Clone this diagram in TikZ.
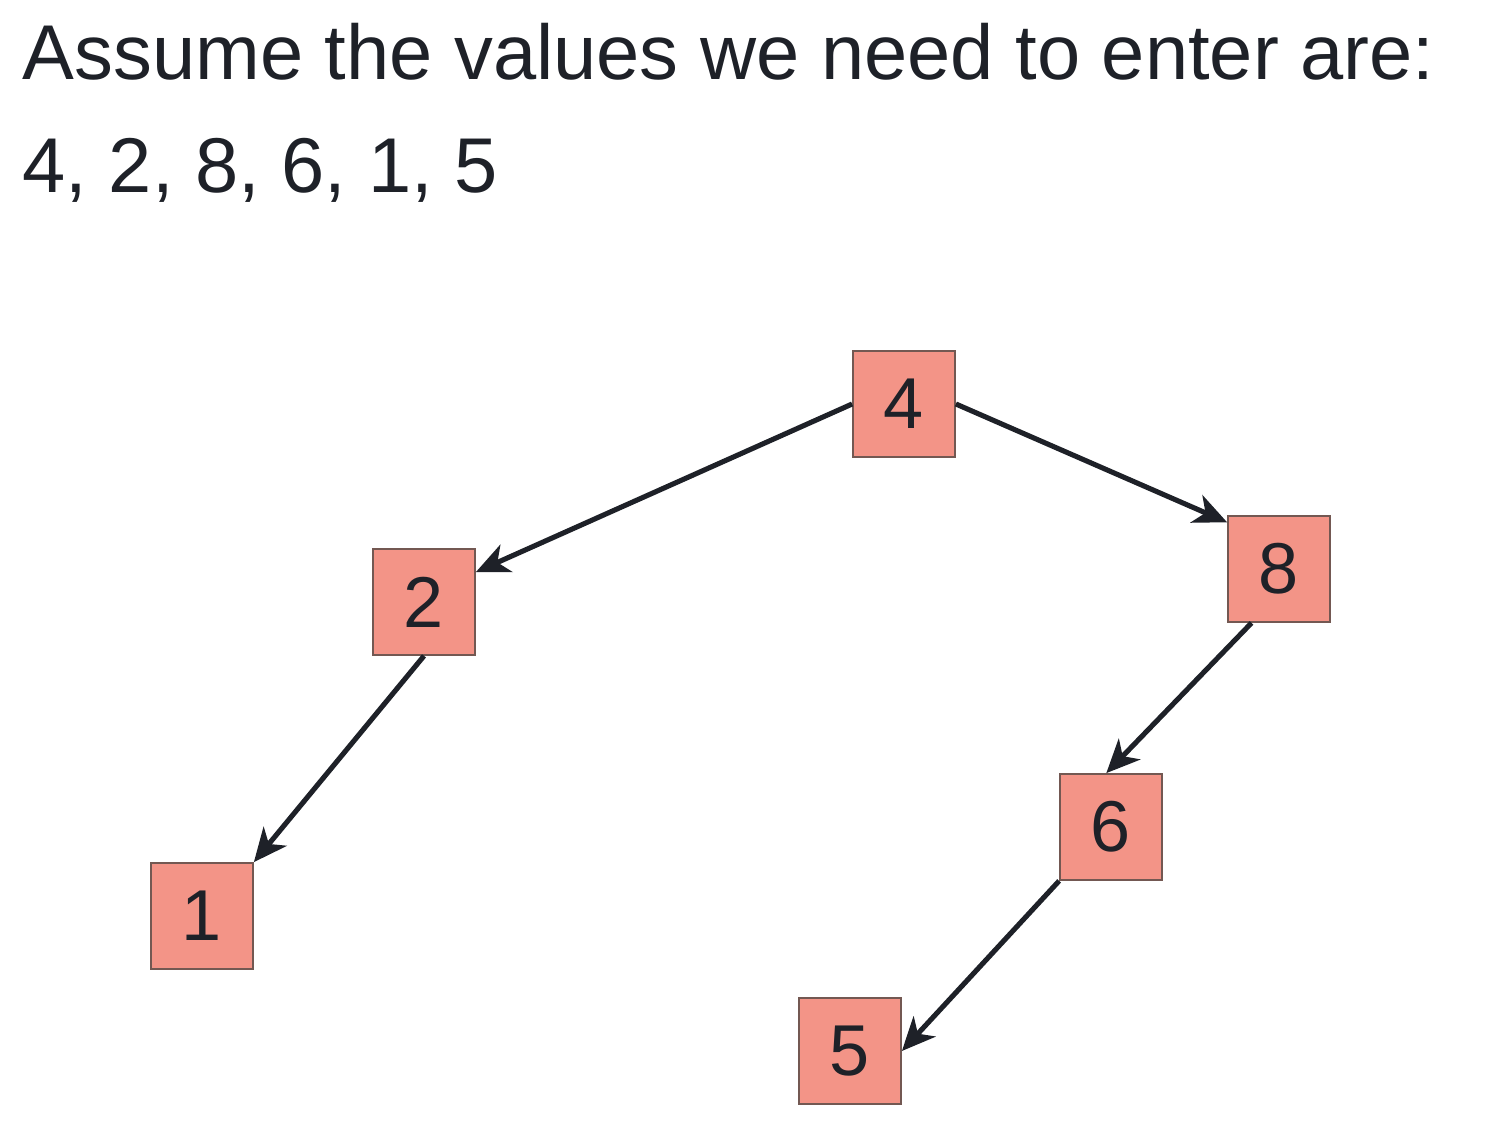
\documentclass[tikz,border=0pt]{standalone}
\usepackage{fontspec}
\setmainfont{Liberation Sans}
\usepackage{xcolor}
\usepackage{tikz}
\usetikzlibrary{arrows.meta,positioning}

\definecolor{boxfill}{RGB}{243,148,135}
\definecolor{boxline}{RGB}{115,88,82}
\definecolor{inkdark}{RGB}{30,33,40}

\begin{document}
\begin{tikzpicture}[
    valbox/.style={draw=boxline,fill=boxfill,line width=0.5pt,
      minimum width=1.02cm,minimum height=1.06cm,inner sep=0pt,
      text=inkdark,font=\fontsize{20.5}{24}\selectfont},
    link/.style={-{Stealth[length=9.5pt,width=8.5pt,inset=2.8pt]},
      line width=1.45pt,draw=inkdark}]
    \useasboundingbox (0,0) rectangle (14.9,-11.41);

    \node[anchor=base west,text=inkdark,inner sep=0pt,
      font=\fontsize{22.1}{26}\selectfont] (title) at (0.22,-0.80)
      {Assume the values we need to enter are:};
    \node[anchor=base west,text=inkdark,inner sep=0pt,
      font=\fontsize{22.1}{26}\selectfont] (order) at (0.22,-1.93)
      {4, 2, 8, 6, 1, 5};

    \node[valbox] (n4) at (9.04,-4.04) {4};

    \node[valbox] (n2) at (4.24,-6.02) {2};
    \node[valbox] (n8) at (12.79,-5.69) {8};

    \node[valbox] (n1) at (2.02,-9.16) {1};
    \node[valbox] (n6) at (11.11,-8.27) {6};

    \node[valbox] (n5) at (8.50,-10.51) {5};

    \draw[link] (n4.west) -- (n2.30);
    \draw[link] (n4.east) -- (n8.138);

    \draw[link] (n2.south) -- (n1.north east);

    \draw[link] (n8.-117) -- (n6.95);
    \draw[link] (n6.south west) -- (n5.east);

  \end{tikzpicture}
\end{document}
